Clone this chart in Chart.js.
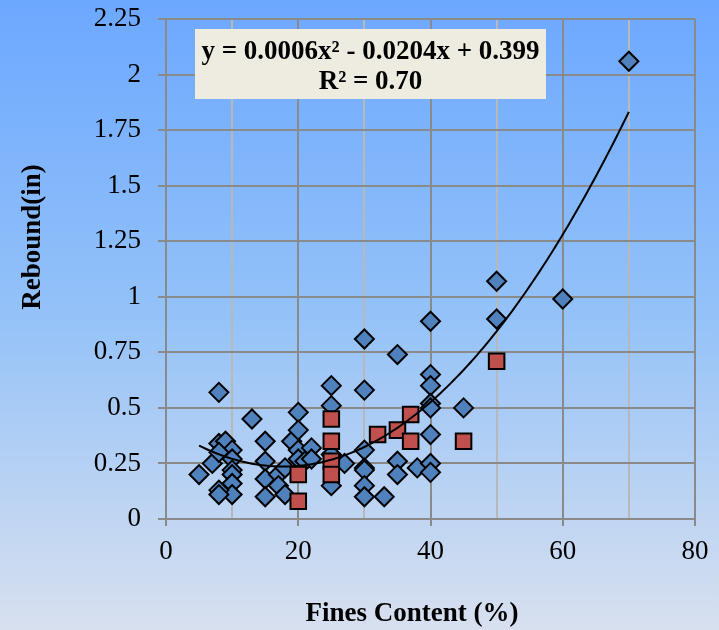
<!DOCTYPE html>
<html>
<head>
<meta charset="utf-8">
<script src="https://cdn.jsdelivr.net/npm/chart.js@4/dist/chart.umd.min.js"></script>
<style>
  html, body { margin: 0; padding: 0; background: #d8e0ef; }
  #wrap { width: 719px; height: 630px; position: relative; }
</style>
</head>
<body>
<div id="wrap"><canvas id="c" width="719" height="630"></canvas></div>
<script>
// Field samples: fines content (%) vs rebound (in)
const blueFines = [5, 7, 8, 8, 9, 10, 8, 10, 10, 10, 10, 10, 8, 8,
  13, 15, 15, 15, 15, 17, 17, 18, 18,
  19, 20, 20, 20, 20, 21, 22, 22,
  25, 25, 25, 25, 27,
  30, 30, 30, 30, 30, 30, 30, 33,
  35, 35, 35, 38,
  40, 40, 40, 40, 40, 40, 40, 40,
  45, 50, 50, 60, 70];
const blueRebound = [0.20, 0.25, 0.57, 0.34, 0.35, 0.31, 0.30, 0.27, 0.22, 0.20, 0.16, 0.11, 0.13, 0.11,
  0.45, 0.35, 0.26, 0.18, 0.10, 0.20, 0.15, 0.23, 0.11,
  0.35, 0.48, 0.40, 0.31, 0.27, 0.26, 0.32, 0.27,
  0.60, 0.51, 0.29, 0.15, 0.25,
  0.81, 0.58, 0.31, 0.23, 0.22, 0.15, 0.10, 0.10,
  0.74, 0.26, 0.20, 0.23,
  0.89, 0.65, 0.60, 0.52, 0.50, 0.38, 0.25, 0.21,
  0.50, 1.07, 0.90, 0.99, 2.06];

const redFines = [20, 20, 25, 25, 25, 25, 32, 35, 37, 37, 45, 50];
const redRebound = [0.20, 0.08, 0.45, 0.35, 0.26, 0.20, 0.38, 0.40, 0.47, 0.35, 0.35, 0.71];

const xTickLabels = ['0', '20', '40', '60', '80'];
const yTickLabels = ['0', '0.25', '0.5', '0.75', '1', '1.25', '1.5', '1.75', '2', '2.25'];

const equationLines = ['y = 0.0006x² - 0.0204x + 0.399', 'R² = 0.70'];
const xTitle = 'Fines Content (%)';
const yTitle = 'Rebound(in)';

// Second-order least-squares trend through the blue series
function quadFit(xs, ys) {
  let s0 = xs.length, s1 = 0, s2 = 0, s3 = 0, s4 = 0, t0 = 0, t1 = 0, t2 = 0;
  xs.forEach((x, i) => {
    const y = ys[i];
    s1 += x; s2 += x * x; s3 += x * x * x; s4 += x * x * x * x;
    t0 += y; t1 += x * y; t2 += x * x * y;
  });
  const M = [[s4, s3, s2, t2], [s3, s2, s1, t1], [s2, s1, s0, t0]];
  for (let i = 0; i < 3; i++) {
    for (let k = i + 1; k < 3; k++) {
      const f = M[k][i] / M[i][i];
      for (let j = i; j < 4; j++) M[k][j] -= f * M[i][j];
    }
  }
  const r = [0, 0, 0];
  for (let i = 2; i >= 0; i--) {
    let s = M[i][3];
    for (let j = i + 1; j < 3; j++) s -= M[i][j] * r[j];
    r[i] = s / M[i][i];
  }
  return r; // [a, b, c]
}

const [qa, qb, qc] = quadFit(blueFines, blueRebound);
const xMinFit = Math.min(...blueFines), xMaxFit = Math.max(...blueFines);
const trendPoints = [];
for (let x = xMinFit; x <= xMaxFit + 1e-9; x += 0.5) {
  trendPoints.push({ x: x, y: qa * x * x + qb * x + qc });
}

const toPoints = (xs, ys) => xs.map((x, i) => ({ x: x, y: ys[i] }));

const SERIF = "'Liberation Serif', 'Times New Roman', serif";
const GRID_DARK = '#8a8a8a';
const GRID_LIGHT = '#b8b8b8';

const backdrop = {
  id: 'backdrop',
  beforeDraw(chart) {
    const { ctx, width, height } = chart;
    const g = ctx.createLinearGradient(0, 0, 0, height);
    g.addColorStop(0, '#6ca8ff');
    g.addColorStop(0.5, '#94c2f8');
    g.addColorStop(1, '#d8e0ef');
    ctx.save();
    ctx.fillStyle = g;
    ctx.fillRect(0, 0, width, height);
    ctx.restore();
  }
};

const annotations = {
  id: 'annotations',
  afterDraw(chart) {
    const { ctx, chartArea } = chart;
    ctx.save();
    // equation box
    const bx = chartArea.left + 29, by = chartArea.top + 10, bw = 351, bh = 70;
    ctx.fillStyle = '#eeece1';
    ctx.fillRect(bx, by, bw, bh);
    ctx.fillStyle = '#000';
    ctx.font = 'bold 27px ' + SERIF;
    ctx.textAlign = 'center';
    ctx.textBaseline = 'alphabetic';
    ctx.fillText(equationLines[0], bx + bw / 2, by + 30);
    ctx.fillText(equationLines[1], bx + bw / 2, by + 60);
    // axis titles
    ctx.font = 'bold 27px ' + SERIF;
    ctx.textBaseline = 'middle';
    ctx.fillText(xTitle, 412, 614);
    ctx.translate(33, 237);
    ctx.rotate(-Math.PI / 2);
    ctx.fillText(yTitle, 0, 0);
    ctx.restore();
  }
};

new Chart(document.getElementById('c'), {
  type: 'scatter',
  data: {
    datasets: [
      {
        label: 'Trend',
        data: trendPoints,
        showLine: true,
        borderColor: '#000',
        borderWidth: 2,
        pointRadius: 0,
        fill: false,
        order: 0
      },
      {
        label: 'Red',
        data: toPoints(redFines, redRebound),
        pointStyle: 'rect',
        pointRadius: 11,
        backgroundColor: '#c0504d',
        borderColor: '#000',
        borderWidth: 2,
        order: 1
      },
      {
        label: 'Blue',
        data: toPoints(blueFines, blueRebound),
        pointStyle: 'rectRot',
        pointRadius: 9.5,
        backgroundColor: '#4f81bd',
        borderColor: '#000',
        borderWidth: 2,
        order: 2
      }
    ]
  },
  options: {
    responsive: false,
    animation: false,
    devicePixelRatio: 1,
    layout: { padding: { left: 0, right: 24, top: 19, bottom: 0 } },
    plugins: { legend: { display: false }, tooltip: { enabled: false } },
    scales: {
      x: {
        type: 'linear',
        min: 0, max: 80,
        afterFit(scale) {
          scale.height = 111;
          scale.paddingLeft = 0;
          scale.paddingRight = 0;
        },
        afterBuildTicks(scale) {
          scale.ticks = [0, 10, 20, 30, 40, 50, 60, 70, 80].map(v => ({ value: v }));
        },
        ticks: {
          font: { family: SERIF, size: 27 },
          color: '#000',
          padding: 10,
          maxRotation: 0,
          autoSkip: false,
          callback: (v) => {
            const i = xTickLabels.indexOf(String(v));
            return i >= 0 ? xTickLabels[i] : '';
          }
        },
        grid: {
          color: (c) => (c.tick && c.tick.value % 20 === 0) ? GRID_DARK : GRID_LIGHT,
          tickColor: (c) => (c.tick && c.tick.value % 20 === 0) ? GRID_DARK : 'rgba(0,0,0,0)',
          lineWidth: 2,
          tickLength: 7
        },
        border: { color: GRID_DARK, width: 2 }
      },
      y: {
        type: 'linear',
        min: 0, max: 2.25,
        afterFit(scale) {
          scale.width = 166;
          scale.paddingTop = 0;
          scale.paddingBottom = 0;
        },
        afterBuildTicks(scale) {
          scale.ticks = yTickLabels.map(s => ({ value: parseFloat(s) }));
        },
        ticks: {
          font: { family: SERIF, size: 27 },
          color: '#000',
          padding: 17,
          autoSkip: false,
          callback: (v) => {
            const i = yTickLabels.findIndex(s => Math.abs(parseFloat(s) - v) < 1e-9);
            return i >= 0 ? yTickLabels[i] : '';
          }
        },
        grid: { color: GRID_DARK, lineWidth: 2, tickLength: 8 },
        border: { color: GRID_DARK, width: 2 }
      }
    }
  },
  plugins: [backdrop, annotations]
});
</script>
</body>
</html>
